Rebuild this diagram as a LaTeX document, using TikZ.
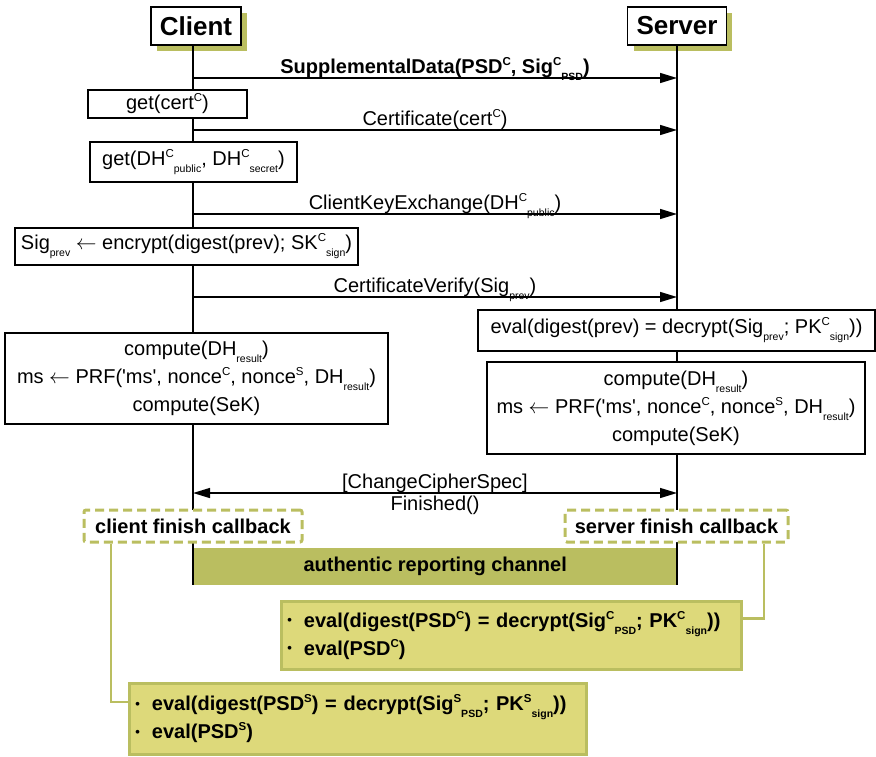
\documentclass[tikz,border=0pt]{standalone}
\usepackage{fontspec}
\setmainfont{Liberation Sans}
\usepackage{graphicx}
\usetikzlibrary{arrows.meta,positioning,shadows}

\definecolor{chanolive}{RGB}{186,190,96}
\definecolor{notefill}{RGB}{221,217,122}

\newcommand{\bodyfont}{\fontsize{20}{28}\selectfont}
\newcommand{\upidx}[1]{\raisebox{0.4em}{\fontsize{11.5}{11.5}\selectfont #1}}
\newcommand{\lowidx}[1]{\raisebox{-0.35em}{\fontsize{10.5}{10.5}\selectfont #1}}
\newcommand{\bul}{\raisebox{0.12em}{\fontsize{13}{13}\selectfont\textbullet}\hspace{12pt}}

\tikzset{
  party/.style={draw, fill=white, line width=1.6pt, font=\fontsize{26}{30}\selectfont\bfseries,
    inner xsep=9pt, minimum height=38pt,
    drop shadow={shadow xshift=6pt, shadow yshift=-6pt, fill=chanolive, opacity=1}},
  life/.style={line width=1.8pt},
  act/.style={draw, fill=white, line width=1.4pt, inner sep=2pt, align=center, font=\bodyfont},
  msg/.style={line width=1.4pt, -{Triangle[length=17pt,width=10pt]}},
  lbl/.style={anchor=base, yshift=5pt, inner sep=0pt, font=\bodyfont},
  cb/.style={draw=chanolive, dash pattern=on 9pt off 5pt, line width=3pt, fill=white,
    rounded corners=2pt, font=\bodyfont\bfseries, minimum height=32pt},
  link/.style={draw=chanolive, line width=2.8pt},
  note/.style={draw=chanolive, fill=notefill, line width=2.8pt, font=\bodyfont\bfseries,
    align=left, anchor=north west, inner xsep=6pt}
}

\begin{document}
\begin{tikzpicture}[x=1pt, y=-1pt]
\useasboundingbox (0,0) rectangle (876,756);

% the two parties
\node[party] (client) at (196,26) {Client};
\node[party] (server) at (677,26) {Server};

% channel bar under the lifelines
\node[fill=chanolive, minimum width=484pt, minimum height=37pt, anchor=north west,
  inner sep=0pt, font=\bodyfont\bfseries] (chan) at (193,548) {authentic reporting channel};

% lifelines
\coordinate (cend) at (193,585);
\coordinate (send) at (677,585);
\draw[life] (client.south -| cend) -- (cend);
\draw[life] (server.south -| send) -- (send);

% client side
\node[act, minimum width=159pt, minimum height=28pt] (getcert) at (167.5,104) {get(cert\upidx{C})};
\node[act, minimum width=207pt, minimum height=40pt] (getdh) at (193.5,162)
  {get(DH\upidx{C}\lowidx{public}, DH\upidx{C}\lowidx{secret})};
\node[act, minimum width=343pt, minimum height=37pt] (sigprev) at (186.5,246.5)
  {Sig\lowidx{prev} $\leftarrow$ encrypt(digest(prev); SK\upidx{C}\lowidx{sign})};
\node[act, minimum width=383pt, minimum height=91pt] (ccomp) at (196.5,378.5)
  {compute(DH\lowidx{result})\\
   ms $\leftarrow$ PRF(\textquotesingle ms\textquotesingle, nonce\upidx{C}, nonce\upidx{S}, DH\lowidx{result})\\
   compute(SeK)};

% server side
\node[act, minimum width=397pt, minimum height=41pt] (seval) at (676.5,330.5)
  {eval(digest(prev) = decrypt(Sig\lowidx{prev}; PK\upidx{C}\lowidx{sign}))};
\node[act, minimum width=378pt, minimum height=92pt] (scomp) at (676,408)
  {compute(DH\lowidx{result})\\
   ms $\leftarrow$ PRF(\textquotesingle ms\textquotesingle, nonce\upidx{C}, nonce\upidx{S}, DH\lowidx{result})\\
   compute(SeK)};

% messages
\foreach \y/\n in {78/a, 130/b, 214/c, 297/d, 493/e} {
  \coordinate (c\n) at (193,\y);
  \coordinate (s\n) at (677,\y);
}
\draw[msg] (ca) -- node[lbl, font=\bodyfont\bfseries] {SupplementalData(PSD\upidx{C}, Sig\upidx{C}\lowidx{PSD})} (sa);
\draw[msg] (cb) -- node[lbl] {Certificate(cert\upidx{C})} (sb);
\draw[msg] (cc) -- node[lbl] {ClientKeyExchange(DH\upidx{C}\lowidx{public})} (sc);
\draw[msg] (cd) -- node[lbl] {CertificateVerify(Sig\lowidx{prev})} (sd);
\draw[msg, {Triangle[length=17pt,width=10pt]}-{Triangle[length=17pt,width=10pt]}] (ce)
  -- node[lbl] {[ChangeCipherSpec]} node[below, inner sep=2pt, font=\bodyfont] {Finished()} (se);

% finish callbacks
\node[cb, minimum width=218pt] (ccb) at (193,526) {client finish callback};
\node[cb, minimum width=223pt] (scb) at (676.5,526) {server finish callback};

% evaluation notes
\node[note, text width=448pt, minimum height=68pt] (cnote) at (280,600)
  {\bul eval(digest(PSD\upidx{C}) = decrypt(Sig\upidx{C}\lowidx{PSD}; PK\upidx{C}\lowidx{sign}))\\
   \bul eval(PSD\upidx{C})};
\node[note, text width=445pt, minimum height=71pt] (snote) at (128,682)
  {\bul eval(digest(PSD\upidx{S}) = decrypt(Sig\upidx{S}\lowidx{PSD}; PK\upidx{S}\lowidx{sign}))\\
   \bul eval(PSD\upidx{S})};

\draw[link] ([xshift=87.5pt]scb.south) |- ([yshift=17pt]cnote.east);
\draw[link] ([xshift=-82pt]ccb.south) |- ([yshift=17pt]snote.west);
\end{tikzpicture}
\end{document}
